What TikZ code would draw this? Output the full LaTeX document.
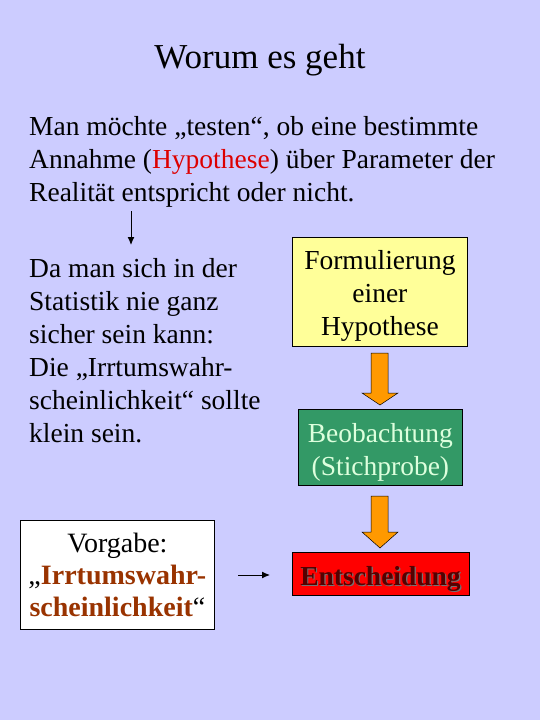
\documentclass[tikz,border=0pt]{standalone}
\usepackage{fontspec}
\usetikzlibrary{arrows.meta}
\setmainfont{Liberation Serif}
\definecolor{bg}{HTML}{CCCCFF}
\definecolor{hyp}{HTML}{DD0000}
\definecolor{yel}{HTML}{FFFF99}
\definecolor{grn}{HTML}{339966}
\definecolor{grntxt}{HTML}{DDFFDD}
\definecolor{org}{HTML}{FF9900}
\definecolor{brn}{HTML}{993300}
\definecolor{dred}{HTML}{550000}
\tikzset{
  ln/.style={font=\fontsize{27.5}{33}\selectfont, inner sep=0pt, anchor=base west},
  boxframe/.style={draw=black, line width=0.8pt, inner sep=0pt, anchor=north west},
  boxtxt/.style={font=\fontsize{27.5}{33}\selectfont, align=center, inner sep=0pt},
  fatarrow/.style={fill=org, draw=black, line width=0.5pt},
  thin/.style={-{Latex[length=8pt,width=7pt]}, line width=1pt}
}
\begin{document}
\begin{tikzpicture}[x=1pt,y=-1pt]
\fill[bg] (0,0) rectangle (540,720);
\useasboundingbox (0,0) rectangle (540,720);
\node[font=\fontsize{35}{40}\selectfont, anchor=base, inner sep=0pt] (title) at (260,68) {Worum es geht};
\node[ln] (i1) at (29,135) {Man möchte „testen“, ob eine bestimmte};
\node[ln] (i2) at (29,168) {Annahme (\textcolor{hyp}{Hypothese}) über Parameter der};
\node[ln] (i3) at (29,201) {Realität entspricht oder nicht.};
\node[ln] (l1) at (29,277) {Da man sich in der};
\node[ln] (l2) at (29,310) {Statistik nie ganz};
\node[ln] (l3) at (29,343) {sicher sein kann:};
\node[ln] (l4) at (29,376) {Die „Irrtumswahr-};
\node[ln] (l5) at (29,409) {scheinlichkeit“ sollte};
\node[ln] (l6) at (29,442) {klein sein.};
\coordinate (ds) at (131,211);
\coordinate (de) at (131,245);
\draw[thin] (ds) -- (de);
% boxes
\node[boxframe, fill=yel, minimum width=175, minimum height=109] (form) at (292,237) {};
\node[boxtxt] (formt) at ([yshift=-4]form.center) {Formulierung\\einer\\Hypothese};
\node[boxframe, fill=grn, minimum width=164, minimum height=76] (beob) at (298,409) {};
\node[boxtxt, text=grntxt] (beobt) at ([yshift=-5]beob.center) {Beobachtung\\(Stichprobe)};
\node[boxframe, fill=red, minimum width=177, minimum height=43] (ent) at (292,552) {};
\node[font=\bfseries\fontsize{27.5}{30}\selectfont, text=black!55, anchor=base, inner sep=0pt] (entsh) at ([xshift=1.2,yshift=-1.2]380.5,585) {Entscheidung};
\node[font=\bfseries\fontsize{27.5}{30}\selectfont, text=dred, anchor=base, inner sep=0pt] (entt) at (380.5,585) {Entscheidung};
\node[boxframe, fill=white, minimum width=194, minimum height=109] (vorg) at (20,520) {};
\node[boxtxt, font=\fontsize{28}{32}\selectfont] (vorgt) at (vorg.center) {Vorgabe:\\„\textbf{\textcolor{brn}{Irrtumswahr-}}\\\textbf{\textcolor{brn}{scheinlichkeit}}“};
% fat arrows
\draw[fatarrow] (371,353) -- (388,353) -- (388,393) -- (398,393) -- (380,405) -- (362,393) -- (371,393) -- cycle;
\draw[fatarrow] (371,496) -- (388,496) -- (388,532) -- (398,532) -- (380,548) -- (362,532) -- (371,532) -- cycle;
\coordinate (hs) at (238,575);
\coordinate (he) at (270,575);
\draw[thin] (hs) -- (he);
\end{tikzpicture}
\end{document}
